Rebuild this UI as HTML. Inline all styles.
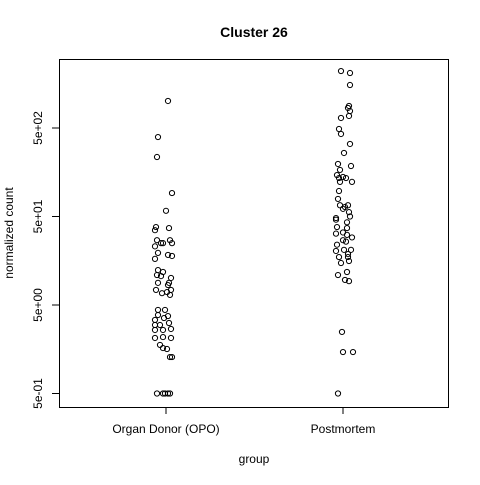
<!DOCTYPE html>
<html><head><meta charset="utf-8"><style>body{margin:0;background:#fff}svg{font-family:"Liberation Sans",Arial,sans-serif}</style></head>
<body>
<svg id="c" width="480" height="480">
<text x="254" y="37" text-anchor="middle" font-weight="bold" font-size="14">Cluster 26</text>
<rect x="59.5" y="59.5" width="389" height="348" fill="none" stroke="#000"/>
<text x="254" y="463" text-anchor="middle" font-size="12">group</text>
<text transform="translate(13,233) rotate(-90)" text-anchor="middle" font-size="12">normalized count</text>
<g id="axes"></g><g id="pts"></g>
</svg>
<script>
const groups=["Organ Donor (OPO)","Postmortem"];
const yTicks=[0.5,5,50,500];
const yTickLabels=["5e-01","5e+00","5e+01","5e+02"];
const opoValues=[1010,395,235,92,58,38,35,37,27,25,27,25,23,25,19.4,18.4,16.6,17.9,12.4,11.8,10.9,10.6,10.1,8.9,8.9,7.4,7.4,7.0,6.8,6.5,8.4,4.4,4.4,3.85,3.39,3.56,3.75,2.97,2.97,3.13,2.61,2.61,2.68,2.12,2.17,2.12,1.77,1.63,1.59,1.29,1.29,0.5,0.5,0.5,0.5,0.5];
const opoJitter=[2,-8,-9,6,0,-10,-11,3,-9,-5,4,6,-11,-3,-8,2,-11,6,-8,-3,-9,-5,5,3,-8,5,-10,1,-4,4,2,-8,-1,-8,-11,-2,2,-11,-6,3,-11,-3,5,-11,-3,5,-6,-3,1,4,6,-9,-3,-1,2,4];
const pmValues=[2200,2090,1530,887,842,778,649,684,487,428,330,261,196,168,186,147,136,140,136,123,123,97,79,67,64,67,61,56,50,48,46,43,38,37,32,33,31,27,29,24,26,20.4,21,18.8,21,17.4,17.4,14.9,15.7,10.9,11.8,9.6,9.3,2.48,1.47,1.47,0.5];
const pmJitter=[-2,7,7,6,5,7,-2,6,-4,-2,7,1,-5,-3,8,-6,-4,0,3,9,-3,-4,-5,-3,2,5,0,6,7,-7,-7,4,-6,4,-7,0,4,0,9,-6,3,-7,1,5,8,-4,5,-2,6,-5,4,2,6,-1,0,10,-5];
const ns="http://www.w3.org/2000/svg";
function yScale(v){return 305-88.5*Math.log10(v/5);}
function xScale(i){return 166+i*177;}
const ax=document.getElementById('axes'),pts=document.getElementById('pts');
function mk(t,a,p){const e=document.createElementNS(ns,t);for(const k in a)e.setAttribute(k,a[k]);p.appendChild(e);return e;}
mk('line',{x1:59.5,x2:59.5,y1:yScale(yTicks[0]),y2:yScale(yTicks[yTicks.length-1]),stroke:'#000'},ax);
yTicks.forEach((t,i)=>{const y=yScale(t);
const l=mk('line',{x1:52,x2:59.5,y1:y,y2:y,stroke:'#000'},ax);


const tx=mk('text',{transform:`translate(42,${y}) rotate(-90)`,'text-anchor':'middle','font-size':12},ax);
tx.textContent=yTickLabels[i];

});
groups.forEach((g,i)=>{const x=xScale(i);
const l=mk('line',{x1:x,x2:x,y1:407.5,y2:414,stroke:'#000'},ax);


const tx=mk('text',{x:x,y:433,'text-anchor':'middle','font-size':12},ax);
tx.textContent=g;

});
[[opoValues,opoJitter],[pmValues,pmJitter]].forEach(([vals,jit],gi)=>{vals.forEach((v,k)=>{
const c=mk('circle',{cx:xScale(gi)+jit[k],cy:yScale(v),r:2.6,fill:'none',stroke:'#000','stroke-width':1},pts);

});});
</script>
</body></html>
